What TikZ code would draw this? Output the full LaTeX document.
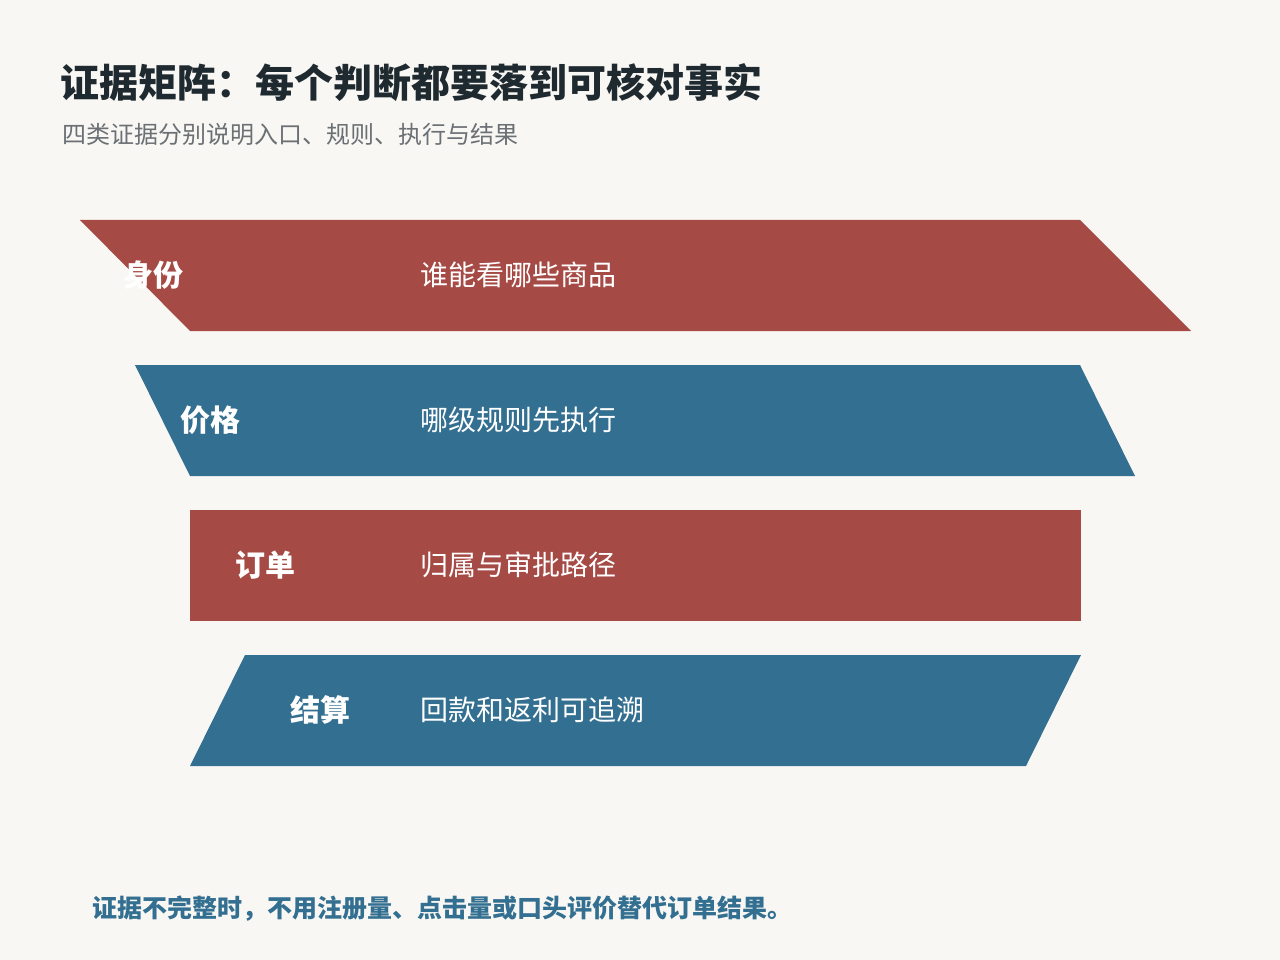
\documentclass[tikz,border=0pt]{standalone}
\usepackage{fontspec}
\setmainfont{Noto Sans CJK SC}
\usepackage{xcolor}
\usepackage{tikz}
\usetikzlibrary{positioning}
\definecolor{paper}{HTML}{F9F7F4}
\definecolor{bandred}{HTML}{A54A45}
\definecolor{bandblue}{HTML}{336F90}
\definecolor{ink}{HTML}{1F2A30}
\definecolor{greyink}{HTML}{6B7075}
\tikzset{
  tag/.style={
    anchor=west,
    inner sep=0pt,
    text=white,
    font=\fontsize{30}{30}\selectfont\bfseries},
  desc/.style={
    anchor=west,
    inner sep=0pt,
    text=white,
    font=\fontsize{28}{28}\selectfont}
  }

\begin{document}
\begin{tikzpicture}[x=1pt,y=-1pt]
      \fill[paper] (0,0) rectangle (1280,960);
      \node[anchor=west, inner sep=0pt, text=ink, font=\fontsize{39}{39}\selectfont\bfseries] (title) at (60,83) {证据矩阵：每个判断都要落到可核对事实};
      \node[anchor=west, inner sep=0pt, text=greyink, font=\fontsize{24}{24}\selectfont] (sub) at (62,134) {四类证据分别说明入口、规则、执行与结果};
      \fill[bandred] (80,220) -- (1080,220) -- (1191,331) -- (190,331) -- cycle;
      \fill[bandblue] (135,365) -- (1080,365) -- (1135,476) -- (190,476) -- cycle;
      \fill[bandred] (190,510) -- (1081,510) -- (1081,621) -- (190,621) -- cycle;
      \fill[bandblue] (245,655) -- (1081,655) -- (1026,766) -- (190,766) -- cycle;
      \node[tag] (id) at (123,275) {身份};
      \node[desc] (idtxt) at (420,275) {谁能看哪些商品};
      \node[tag] (price) at (180,420) {价格};
      \node[desc] (pricetxt) at (420,420) {哪级规则先执行};
      \node[tag] (order) at (235,565) {订单};
      \node[desc] (ordertxt) at (420,565) {归属与审批路径};
      \node[tag] (settle) at (290,710) {结算};
      \node[desc] (settletxt) at (420,710) {回款和返利可追溯};
      \node[anchor=west, inner sep=0pt, text=bandblue, font=\fontsize{25}{25}\selectfont\bfseries] (note) at (92,909) {证据不完整时，不用注册量、点击量或口头评价替代订单结果。};
    \end{tikzpicture}
\end{document}
